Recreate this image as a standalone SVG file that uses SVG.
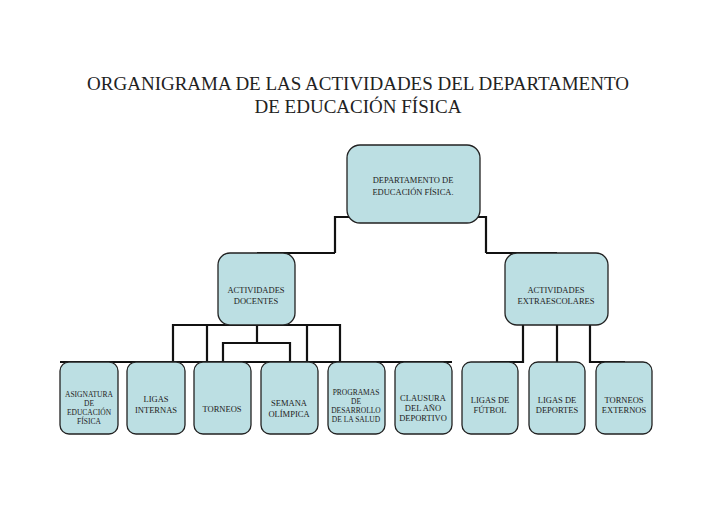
<svg xmlns="http://www.w3.org/2000/svg" width="728" height="515" viewBox="0 0 728 515">
<style>
.b{fill:#bcdfe3;stroke:#222;stroke-width:1.3}
.t{font-family:"Liberation Serif",serif;font-size:8.5px;fill:#222;text-anchor:middle}
.s{font-size:7.5px}
.c{fill:none;stroke:#111;stroke-width:2.2}
</style>
<rect width="728" height="515" fill="#fff"/>
<text x="358" y="90" font-family="Liberation Serif,serif" font-size="19" text-anchor="middle" fill="#222">ORGANIGRAMA DE LAS ACTIVIDADES DEL DEPARTAMENTO</text>
<text x="358" y="113" font-family="Liberation Serif,serif" font-size="19" text-anchor="middle" fill="#222">DE EDUCACIÓN FÍSICA</text>
<g id="connectors" class="c">
<path d="M335 253V217H486V253M257 253H335"/>
<path d="M486 253H557"/>
<path d="M173 362V325H340V362M207 325V362M257 325V343M307 325V362M223 362V343H290V362"/>
<path d="M60 362H452"/>
<path d="M490 362H523V325M557 325V362M625 362H590V325"/>
</g>
<g id="dep"><rect class="b" x="347" y="145" width="133" height="78" rx="13"/><text class="t" x="413" y="183">DEPARTAMENTO DE</text><text class="t" x="413" y="195">EDUCACIÓN FÍSICA.</text></g>
<g id="docentes"><rect class="b" x="218" y="253" width="77" height="72" rx="12"/><text class="t" x="256" y="293">ACTIVIDADES</text><text class="t" x="256" y="304">DOCENTES</text></g>
<g id="extra"><rect class="b" x="505" y="253" width="103" height="72" rx="12"/><text class="t" x="556" y="293">ACTIVIDADES</text><text class="t" x="556" y="304">EXTRAESCOLARES</text></g>
<g id="asig"><rect class="b" x="60" y="362" width="58" height="72" rx="9"/><text class="t s" x="89" y="397">ASIGNATURA</text><text class="t s" x="89" y="406">DE</text><text class="t s" x="89" y="415">EDUCACIÓN</text><text class="t s" x="89" y="424">FÍSICA</text></g>
<g id="ligasint"><rect class="b" x="127" y="362" width="58" height="72" rx="9"/><text class="t" x="156" y="402">LIGAS</text><text class="t" x="156" y="413">INTERNAS</text></g>
<g id="torneos"><rect class="b" x="194" y="362" width="57" height="72" rx="9"/><text class="t" x="222" y="412">TORNEOS</text></g>
<g id="semana"><rect class="b" x="261" y="362" width="57" height="72" rx="9"/><text class="t" x="289" y="406">SEMANA</text><text class="t" x="289" y="417">OLÍMPICA</text></g>
<g id="programas"><rect class="b" x="328" y="362" width="57" height="72" rx="9"/><text class="t s" x="356" y="395">PROGRAMAS</text><text class="t s" x="356" y="404">DE</text><text class="t s" x="356" y="413">DESARROLLO</text><text class="t s" x="356" y="422">DE LA SALUD</text></g>
<g id="clausura"><rect class="b" x="395" y="362" width="57" height="72" rx="9"/><text class="t" x="423" y="401">CLAUSURA</text><text class="t" x="423" y="411">DEL AÑO</text><text class="t" x="423" y="421">DEPORTIVO</text></g>
<g id="futbol"><rect class="b" x="462" y="362" width="56" height="72" rx="9"/><text class="t" x="490" y="403">LIGAS DE</text><text class="t" x="490" y="413">FÚTBOL</text></g>
<g id="deportes"><rect class="b" x="529" y="362" width="56" height="72" rx="9"/><text class="t" x="557" y="403">LIGAS DE</text><text class="t" x="557" y="413">DEPORTES</text></g>
<g id="externos"><rect class="b" x="596" y="362" width="56" height="72" rx="9"/><text class="t" x="624" y="403">TORNEOS</text><text class="t" x="624" y="413">EXTERNOS</text></g>
</svg>
